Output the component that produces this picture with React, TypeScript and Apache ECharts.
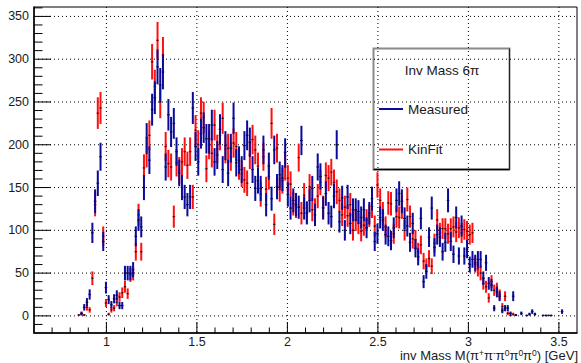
import React, { useEffect, useRef } from "react";
import * as echarts from "echarts";

// Histogram binning (GeV)
const BIN_FIRST_CENTER = 0.8475;
const BIN_WIDTH = 0.015;

// Bin contents (one value per bin, null = empty bin)
const MEASURED: (number | null)[] = [
  null, 3, 10, 16, 25, 97, 134, 155, 186, 87,
  33, 19, 13, 20, 24, 12, 12, 50, 50, 50,
  54, 93, 112, 104, 150, 208, 182, 241, 255, 291,
  270, 285, 174, 235, 215, 225, 192, 167, 150, 139,
  130, 139, 243, 198, 180, 213, 220, 207, 207, 223,
  180, 188, 218, 171, 199, 167, 196, 231, 179, 182,
  171, 199, 211, 203, 171, 149, 158, 149, 194, 130,
  175, 137, 194, 151, 165, 161, 191, 142, 126, 135,
  130, 127, 205, 126, 120, 135, 149, 118, 174, 163,
  126, 143, 120, 116, 140, 200, 110, 138, 100, 139,
  108, 124, 124, 122, 115, 124, 103, 120, 137, 87,
  96, 115, 112, 95, 93, 88, 103, 135, 143, 134,
  114, 105, 86, 108, 79, 69, 114, 40, 52, 92,
  126, 80, 95, 92, 75, 86, 135, 87, 72, 115,
  70, 105, 70, 78, 60, 66, 62, 66, 66, 44,
  62, 38, 36, 9, 28, 23, 6, 9, 9, 3,
  23, 1, null, 3, null, 0.5, 2, 5, 2, null,
  null, 0.5, 0.5, 0.5, 0.5, null, null, null, 5,
];

const KINFIT: (number | null)[] = [
  1, 2, 1, 10, 7, 44, 130, 237, 243, 93,
  15, 2, 7, 9, 16, 22, 27, 34, 26, 48,
  50, 75, 118, 75, 173, 190, 211, 297, 268, 322,
  250, 305, 198, 178, 174, 116, 179, 170, 180, 192,
  176, 192, 139, 217, 200, 237, 232, 172, 200, 190,
  223, 195, 211, 231, 195, 196, 186, 202, 198, 175,
  166, 159, 155, 188, 206, 194, 175, 142, 186, 148,
  163, 225, 107, 196, 148, 158, 174, 161, 154, 131,
  128, 185, 120, 141, 121, 151, 124, 124, 140, 156,
  127, 164, 161, 168, 156, 145, 135, 118, 127, 117,
  130, 100, 112, 108, 99, 106, 112, 117, 128, 105,
  153, 135, 120, 104, 132, 131, 96, 116, 115, 127,
  100, 136, 116, 90, 89, 75, 83, 64, 58, 67,
  58, 85, 112, 97, 102, 102, 96, 102, 104, 98,
  103, 97, 101, 99, 95, 97, 60, 55, 50, 38,
  34, 21, 40, 30, 32, 25, 11, 23, 3, 0.5,
  2, null, null, null, null, null, null, null, null, null,
  null, null, null, null, null, null, null, null, null,
];

// Axis ticks / labels
const X_MIN = 0.6;
const X_MAX = 3.6;
const Y_MIN = -20;
const Y_MAX = 361;
const X_LABELS = [1, 1.5, 2, 2.5, 3, 3.5];
const Y_LABELS = [0, 50, 100, 150, 200, 250, 300, 350];
const X_MINOR_STEP = 0.1;
const Y_MINOR_STEP = 10;

const ERR_SCALE = 1.2; // statistical error bars ~ sqrt(N)

const BLUE = "#0a0a9c";
const RED = "#ff1010";
const FONT = "Liberation Sans, Arial, Helvetica, sans-serif";

function buildSeriesData(values: (number | null)[]) {
  const out: number[][] = [];
  values.forEach((v, k) => {
    if (v === null) return;
    const x = BIN_FIRST_CENTER + k * BIN_WIDTH;
    out.push([x, v, ERR_SCALE * Math.sqrt(Math.max(v, 0.5))]);
  });
  return out;
}

function buildTicks() {
  const ticks: number[][] = [];
  const nx = Math.round((X_MAX - X_MIN) / X_MINOR_STEP);
  for (let k = 1; k < nx; k++) {
    const v = +(X_MIN + k * X_MINOR_STEP).toFixed(3);
    const major = X_LABELS.some((m) => Math.abs(m - v) < 1e-6) ? 1 : 0;
    ticks.push([0, v, major]);
  }
  for (let v = Y_MIN; v < Y_MAX; v += Y_MINOR_STEP) {
    if (v === Y_MIN) continue;
    const major = Y_LABELS.includes(v) ? 1 : 0;
    ticks.push([1, v, major]);
  }
  return ticks;
}

function errorRenderer(color: string) {
  return (params: any, api: any) => {
    const x = api.value(0);
    const v = api.value(1);
    const e = api.value(2);
    const c = api.coord([x, v]);
    const top = api.coord([x, v + e]);
    const bot = api.coord([x, v - e]);
    const hw = api.size([BIN_WIDTH, 0])[0] / 2;
    return {
      type: "group",
      children: [
        {
          type: "line",
          shape: { x1: c[0], y1: top[1], x2: c[0], y2: bot[1] },
          style: { stroke: color, lineWidth: 2 },
        },
        {
          type: "line",
          shape: { x1: c[0] - hw, y1: c[1], x2: c[0] + hw, y2: c[1] },
          style: { stroke: color, lineWidth: 1 },
        },
        {
          type: "rect",
          shape: { x: c[0] - 0.7, y: c[1] - 0.7, width: 1.4, height: 1.4 },
          style: { fill: "#111" },
        },
      ],
    };
  };
}

function tickRenderer(params: any, api: any) {
  const cs = params.coordSys;
  const axis = api.value(0);
  const val = api.value(1);
  const major = api.value(2) === 1;
  const children: any[] = [];
  if (axis === 0) {
    const px = api.coord([val, 0])[0];
    const bottom = cs.y + cs.height;
    if (major) {
      children.push({
        type: "line",
        shape: { x1: px, y1: cs.y, x2: px, y2: bottom },
        style: { stroke: "#000", lineWidth: 1, lineDash: [1, 3] },
      });
    }
    children.push({
      type: "line",
      shape: { x1: px, y1: bottom, x2: px, y2: bottom - (major ? 11 : 5.5) },
      style: { stroke: "#000", lineWidth: 1 },
    });
  } else {
    const py = api.coord([1, val])[1];
    const left = cs.x;
    if (major) {
      children.push({
        type: "line",
        shape: { x1: left, y1: py, x2: cs.x + cs.width, y2: py },
        style: { stroke: "#000", lineWidth: 1, lineDash: [1, 3] },
      });
    }
    children.push({
      type: "line",
      shape: { x1: left, y1: py, x2: left + (major ? 17 : 8.5), y2: py },
      style: { stroke: "#000", lineWidth: 1 },
    });
  }
  return { type: "group", children };
}

export default function App() {
  const ref = useRef<HTMLDivElement>(null);

  useEffect(() => {
    if (!ref.current) return;
    const chart = echarts.init(ref.current, null, { renderer: "svg" });
    chart.setOption({
      animation: false,
      backgroundColor: "#fff",
      grid: {
        left: 34,
        top: 7,
        right: 4,
        bottom: 30,
        show: true,
        borderColor: "#000",
        borderWidth: 1,
        backgroundColor: "transparent",
      },
      xAxis: {
        type: "value",
        min: X_MIN,
        max: X_MAX,
        axisLine: { show: true, onZero: false, lineStyle: { color: "#000", width: 1.5 } },
        axisTick: { show: false },
        splitLine: { show: false },
        axisLabel: {
          customValues: X_LABELS,
          formatter: (v: number) => String(v),
          color: "#1a1a1a",
          fontSize: 12.5,
          lineHeight: 13,
          fontFamily: FONT,
          margin: 2,
        },
      },
      yAxis: {
        type: "value",
        min: Y_MIN,
        max: Y_MAX,
        axisLine: { show: true, onZero: false, lineStyle: { color: "#000", width: 1.5 } },
        axisTick: { show: false },
        splitLine: { show: false },
        axisLabel: {
          customValues: Y_LABELS,
          formatter: (v: number) => String(v),
          color: "#1a1a1a",
          fontSize: 12.5,
          fontFamily: FONT,
          margin: 5,
        },
      },
      series: [
        {
          type: "custom",
          name: "ticks",
          renderItem: tickRenderer,
          data: buildTicks(),
          clip: false,
          silent: true,
          z: 1,
        },
        {
          type: "custom",
          name: "KinFit",
          renderItem: errorRenderer(RED),
          data: buildSeriesData(KINFIT),
          clip: true,
          z: 2,
        },
        {
          type: "custom",
          name: "Measured",
          renderItem: errorRenderer(BLUE),
          data: buildSeriesData(MEASURED),
          clip: true,
          z: 3,
        },
      ],
      graphic: [
        {
          type: "group",
          z: 100,
          children: [
            {
              type: "rect",
              shape: { x: 373.5, y: 48.5, width: 136, height: 121 },
              style: { fill: "#fff", stroke: "#8a8a8a", lineWidth: 2 },
            },
            {
              type: "line",
              shape: { x1: 373.5, y1: 169.5, x2: 509.5, y2: 169.5 },
              style: { stroke: "#000", lineWidth: 1.5 },
            },
            {
              type: "line",
              shape: { x1: 509.5, y1: 48.5, x2: 509.5, y2: 169.5 },
              style: { stroke: "#222", lineWidth: 1 },
            },
            {
              type: "text",
              x: 442,
              y: 70,
              style: {
                text: "Inv Mass 6π",
                fontSize: 13.5,
                fontFamily: FONT,
                fill: "#1a1a1a",
                align: "center",
                verticalAlign: "middle",
              },
            },
            {
              type: "line",
              shape: { x1: 379, y1: 109, x2: 403, y2: 109 },
              style: { stroke: BLUE, lineWidth: 2 },
            },
            {
              type: "text",
              x: 408,
              y: 109,
              style: {
                text: "Measured",
                fontSize: 13.5,
                fontFamily: FONT,
                fill: "#1a1a1a",
                align: "left",
                verticalAlign: "middle",
              },
            },
            {
              type: "line",
              shape: { x1: 379, y1: 149.5, x2: 403, y2: 149.5 },
              style: { stroke: RED, lineWidth: 2 },
            },
            {
              type: "text",
              x: 408,
              y: 149.5,
              style: {
                text: "KinFit",
                fontSize: 13.5,
                fontFamily: FONT,
                fill: "#1a1a1a",
                align: "left",
                verticalAlign: "middle",
              },
            },
          ],
        },
        {
          type: "text",
          right: 3,
          top: 348,
          z: 100,
          style: {
            text: "inv Mass M(π{s|+}π{s|-}π{s|0}π{s|0}π{s|0}) [GeV]",
            fontSize: 13,
            lineHeight: 14,
            fontFamily: FONT,
            fill: "#1a1a1a",
            rich: {
              s: { fontSize: 8.5, verticalAlign: "top", fontFamily: FONT, fill: "#1a1a1a", lineHeight: 8 },
            },
          },
        },
      ],
    });
    return () => chart.dispose();
  }, []);

  return (
    <div
      ref={ref}
      style={{ position: "fixed", left: 0, top: 0, width: 581, height: 363, background: "#fff" }}
    />
  );
}
